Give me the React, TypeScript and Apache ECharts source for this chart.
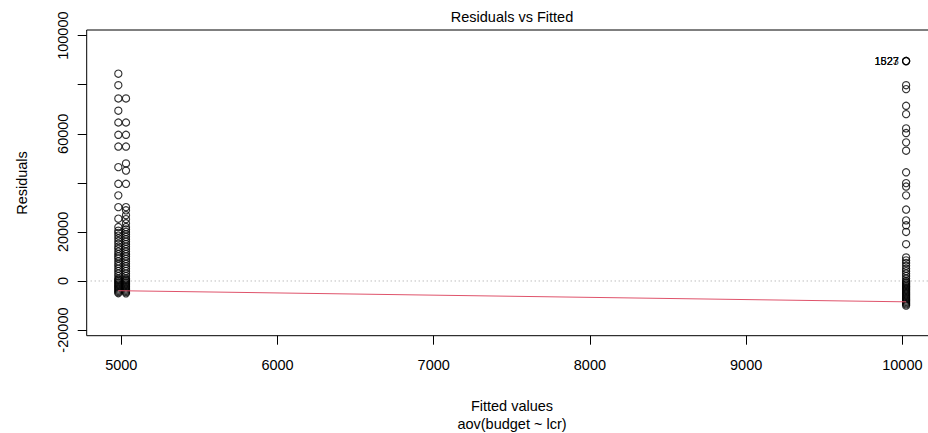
import React, { useEffect, useRef } from "react";
import * as echarts from "echarts";

// Fitted values of the three groups (x positions of the columns)
const FITTED = [4981, 5030, 10024];

// Residuals, one array per fitted value
const RES_A = [
  84500, 79800, 74400, 69400, 64600, 59600, 54800, 46400, 39600, 34900, 30100, 25400, 22000,
  20500, 19600, 18500, 17400, 16300, 15200, 14000, 13100, 12000, 11000, 10000, 9200, 8000,
  7000, 6100, 5000, 4000, 3000, 2000, 1000, 500, 0, -500, -1000, -1500, -2000, -2500, -3000,
  -3500, -4000, -4500, -4981,
];
const RES_B = [
  74400, 64600, 59600, 54800, 47900, 45000, 39600, 30100, 28800, 26800, 25200, 23500, 22000,
  21000, 20000, 19000, 18000, 17000, 16000, 15000, 14000, 13000, 12000, 11000, 10000, 9000,
  8000, 7000, 6000, 5000, 4000, 3000, 2000, 1000, 500, 0, -500, -1000, -1500, -2000, -2500,
  -3000, -3500, -4000, -4500, -5030,
];
const RES_C = [
  79800, 78200, 71400, 68000, 62200, 60300, 56500, 53100, 44300, 39900, 38500, 34900, 29100,
  24700, 22700, 20000, 15000, 9600, 8400, 7300, 6200, 5000, 4000, 3000, 2000, 1000, 0, -500,
  -1000, -1500, -2000, -2500, -3000, -3500, -4000, -4500, -5000, -5500, -6000, -6500, -7000,
  -7500, -8000, -8500, -9000, -9500, -10024,
];

// Labelled outliers (largest residuals)
const OUTLIER_IDS = ["1827", "1523", "1527"];
const OUTLIER_FITTED = [10024, 10024, 10024];
const OUTLIER_RES = [89650, 89650, 89650];

// Smoother line
const SMOOTH_X = [4981, 5030, 10024];
const SMOOTH_Y = [-3950, -4000, -8500];

// Axis ticks / labels
const X_TICKS = [5000, 6000, 7000, 8000, 9000, 10000];
const Y_TICKS = [-20000, 0, 20000, 40000, 60000, 80000, 100000];
const Y_LABELS = [-20000, 0, 20000, 60000, 100000];

const X_MIN = 4778.5;
const X_MAX = 10225;
const Y_MIN = -22300;
const Y_MAX = 102300;

const FONT = "'Liberation Sans', Arial, sans-serif";

export default function App() {
  const ref = useRef<HTMLDivElement>(null);

  useEffect(() => {
    if (!ref.current) return;
    const chart = echarts.init(ref.current, undefined, { renderer: "svg" });

    const pts = (fx: number, arr: number[]) => arr.map((r) => [fx, r]);
    const pointStyle = {
      color: "rgba(0,0,0,0)",
      borderColor: "#000",
      borderWidth: 1.15,
    };
    const SYM = 7.2;

    const option: any = {
      animation: false,
      backgroundColor: "#fff",
      grid: {
        left: 86.7,
        top: 30,
        width: 850.8,
        height: 305.7,
        show: true,
        borderColor: "#000",
        borderWidth: 1,
        backgroundColor: "transparent",
        containLabel: false,
      },
      xAxis: {
        type: "value",
        min: X_MIN,
        max: X_MAX,
        axisLine: { show: false, onZero: false },
        splitLine: { show: false },
        axisTick: {
          show: true,
          length: 9,
          customValues: X_TICKS,
          lineStyle: { color: "#000", width: 1 },
        },
        axisLabel: {
          customValues: X_TICKS,
          formatter: (v: number) => String(v),
          margin: 22,
          color: "#000",
          fontSize: 14.5,
          fontFamily: FONT,
        },
      },
      yAxis: {
        type: "value",
        min: Y_MIN,
        max: Y_MAX,
        axisLine: { show: false, onZero: false },
        splitLine: { show: false },
        axisTick: {
          show: true,
          length: 9,
          customValues: Y_TICKS,
          lineStyle: { color: "#000", width: 1 },
        },
        axisLabel: {
          customValues: Y_LABELS,
          formatter: (v: number) => String(v),
          rotate: 90,
          margin: 16,
          color: "#000",
          fontSize: 14.5,
          fontFamily: FONT,
        },
      },
      graphic: [
        {
          type: "text",
          x: 512,
          y: 17,
          style: {
            text: "Residuals vs Fitted",
            align: "center",
            verticalAlign: "middle",
            fontSize: 14.5,
            fontFamily: FONT,
            fill: "#000",
          },
        },
        {
          type: "text",
          x: 512,
          y: 406,
          style: {
            text: "Fitted values",
            align: "center",
            verticalAlign: "middle",
            fontSize: 14.5,
            fontFamily: FONT,
            fill: "#000",
          },
        },
        {
          type: "text",
          x: 512,
          y: 424,
          style: {
            text: "aov(budget ~ lcr)",
            align: "center",
            verticalAlign: "middle",
            fontSize: 14.5,
            fontFamily: FONT,
            fill: "#000",
          },
        },
        {
          type: "text",
          x: 22,
          y: 183,
          rotation: Math.PI / 2,
          style: {
            text: "Residuals",
            align: "center",
            verticalAlign: "middle",
            fontSize: 14.5,
            fontFamily: FONT,
            fill: "#000",
          },
        },
      ],
      series: [
        {
          type: "line",
          data: [
            [X_MIN, 0],
            [X_MAX, 0],
          ],
          symbol: "none",
          silent: true,
          lineStyle: { color: "#9e9e9e", width: 1, type: [1, 3] },
          z: 1,
        },
        {
          type: "scatter",
          data: pts(FITTED[0], RES_A),
          symbol: "circle",
          symbolSize: SYM,
          itemStyle: pointStyle,
          z: 2,
        },
        {
          type: "scatter",
          data: pts(FITTED[1], RES_B),
          symbol: "circle",
          symbolSize: SYM,
          itemStyle: pointStyle,
          z: 2,
        },
        {
          type: "scatter",
          data: pts(FITTED[2], RES_C),
          symbol: "circle",
          symbolSize: SYM,
          itemStyle: pointStyle,
          z: 2,
        },
        {
          type: "scatter",
          data: OUTLIER_IDS.map((id, i) => ({
            name: id,
            value: [OUTLIER_FITTED[i], OUTLIER_RES[i]],
          })),
          symbol: "circle",
          symbolSize: SYM,
          itemStyle: pointStyle,
          label: {
            show: true,
            position: "left",
            distance: 3,
            formatter: "{b}",
            fontSize: 11,
            fontFamily: FONT,
            color: "#000",
          },
          z: 3,
        },
        {
          type: "line",
          data: SMOOTH_X.map((x, i) => [x, SMOOTH_Y[i]]),
          symbol: "none",
          silent: true,
          lineStyle: { color: "#DF536B", width: 1 },
          z: 4,
        },
      ],
    };

    chart.setOption(option);
    return () => chart.dispose();
  }, []);

  return (
    <div
      style={{
        position: "absolute",
        left: 0,
        top: 0,
        width: 928,
        height: 433,
        overflow: "hidden",
      }}
    >
      <div ref={ref} style={{ width: 945, height: 433 }} />
    </div>
  );
}
